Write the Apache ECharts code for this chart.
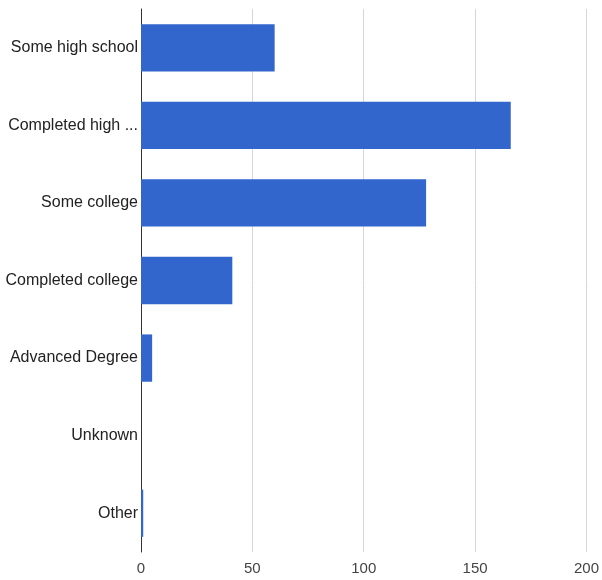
<!DOCTYPE html>
<html>
<head>
<meta charset="utf-8">
<script src="https://cdn.jsdelivr.net/npm/echarts@6/dist/echarts.min.js"></script>
<style>
  html, body { margin: 0; padding: 0; background: #fff; }
  #chart { width: 602px; height: 580px; }
</style>
</head>
<body>
<div id="chart"></div>
<script>
// Education level of respondents
const categories = [
  'Some high school',
  'Completed high school',
  'Some college',
  'Completed college',
  'Advanced Degree',
  'Unknown',
  'Other'
];
const counts = [60, 166, 128, 41, 5, 0, 1];
const xTicks = [0, 50, 100, 150, 200];

const chart = echarts.init(document.getElementById('chart'));
chart.setOption({
  animation: false,
  grid: { left: 141, right: 12, top: 9, bottom: 28, containLabel: false },
  xAxis: {
    type: 'value',
    min: xTicks[0],
    max: xTicks[xTicks.length - 1],
    interval: xTicks[1] - xTicks[0],
    axisLine: { show: false },
    axisTick: { show: false },
    splitLine: { lineStyle: { color: '#d6d6d6', width: 1 } },
    axisLabel: {
      color: '#444',
      fontFamily: 'Liberation Sans, Arial, sans-serif',
      fontSize: 15,
      margin: 9
    }
  },
  yAxis: {
    type: 'category',
    inverse: true,
    data: categories,
    axisLine: { show: true, lineStyle: { color: '#333', width: 1 } },
    axisTick: { show: false },
    axisLabel: {
      color: '#222',
      fontFamily: 'Liberation Sans, Arial, sans-serif',
      fontSize: 16,
      margin: 3,
      formatter: function (name) {
        return name.length > 18 ? name.slice(0, 14) + ' ...' : name;
      }
    }
  },
  series: [{
    type: 'bar',
    data: counts,
    barCategoryGap: '39%',
    itemStyle: { color: '#3366cc' }
  }]
});
</script>
</body>
</html>
